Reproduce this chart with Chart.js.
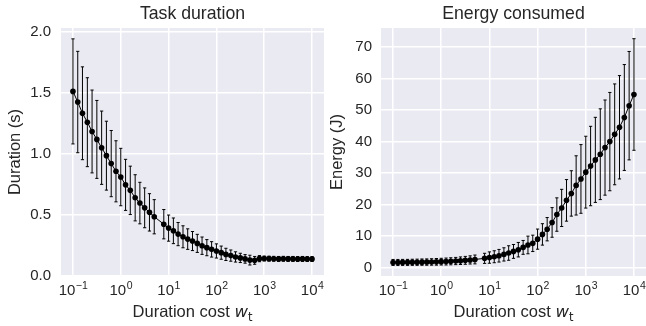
<!DOCTYPE html>
<html>
<head>
<meta charset="utf-8">
<script src="https://cdn.jsdelivr.net/npm/chart.js@4"></script>
<style>
html, body { margin: 0; padding: 0; background: #fff; }
body { width: 646px; height: 326px; overflow: hidden; position: relative; }
#left { position: absolute; left: 0; top: 0; }
#right { position: absolute; left: 322px; top: 0; }
</style>
</head>
<body>
<canvas id="left" width="328" height="326"></canvas>
<canvas id="right" width="328" height="326"></canvas>
<script>
// duration cost w_t (one value is missing from the sweep, near 6.3)
const costs = [0.1, 0.126, 0.158, 0.2, 0.251, 0.316, 0.398, 0.501, 0.631, 0.794,
    1, 1.26, 1.58, 2, 2.51, 3.16, 3.98, 5.01, 7.94,
    10, 12.6, 15.8, 20, 25.1, 31.6, 39.8, 50.1, 63.1, 79.4,
    100, 126, 158, 200, 251, 316, 398, 501, 631, 794,
    1000, 1260, 1580, 2000, 2510, 3160, 3980, 5010, 6310, 7940, 10000];

const durationMean = [1.511, 1.424, 1.332, 1.259, 1.183, 1.118, 1.050, 0.985, 0.920, 0.857,
    0.810, 0.746, 0.701, 0.640, 0.597, 0.558, 0.521, 0.485, 0.424,
    0.392, 0.370, 0.343, 0.321, 0.302, 0.286, 0.267, 0.248, 0.232, 0.218,
    0.205, 0.191, 0.177, 0.167, 0.156, 0.148, 0.140, 0.130, 0.128, 0.142,
    0.143, 0.142, 0.141, 0.140, 0.141, 0.140, 0.140, 0.139, 0.140, 0.139, 0.139];
const durationStd = [0.43, 0.415, 0.38, 0.364, 0.339, 0.319, 0.30, 0.282, 0.271, 0.25,
    0.235, 0.209, 0.198, 0.189, 0.17, 0.163, 0.153, 0.14, 0.12,
    0.107, 0.105, 0.095, 0.09, 0.084, 0.078, 0.074, 0.071, 0.066, 0.063,
    0.058, 0.054, 0.05, 0.046, 0.042, 0.038, 0.035, 0.04, 0.032, 0.025,
    0.02, 0.02, 0.02, 0.02, 0.02, 0.02, 0.02, 0.02, 0.02, 0.02, 0.02];

const energyMean = [1.6, 1.6, 1.62, 1.63, 1.65, 1.67, 1.7, 1.72, 1.76, 1.8,
    1.85, 1.9, 1.97, 2.05, 2.15, 2.27, 2.4, 2.55, 2.9,
    3.15, 3.41, 3.73, 4.15, 4.59, 5.1, 5.65, 6.38, 7.15, 7.66,
    9.0, 10.5, 12.15, 14.3, 16.8, 18.9, 21.3, 23.5, 26.05, 28.1,
    30.25, 32.2, 34.15, 35.95, 38.05, 39.95, 42.25, 44.5, 47.6, 51.35, 54.9];
const energyStd = [0.95, 0.95, 0.95, 0.95, 0.97, 0.98, 1.0, 1.0, 1.02, 1.05,
    1.07, 1.1, 1.12, 1.15, 1.2, 1.25, 1.3, 1.4, 1.6,
    1.8, 1.9, 2.0, 2.1, 2.3, 2.2, 2.3, 2.2, 2.8, 2.6,
    3.2, 3.4, 3.7, 4.7, 5.3, 5.9, 6.6, 7.2, 9.4, 10.9,
    11.4, 12.6, 13.5, 14.4, 15.1, 15.6, 16.0, 16.4, 16.8, 17.2, 17.7];

const costTicks = [0.1, 1, 10, 100, 1000, 10000];
const costTickExponents = ["\u22121", "0", "1", "2", "3", "4"];
const durationTicks = [0, 0.5, 1.0, 1.5, 2.0];
const energyTicks = [0, 10, 20, 30, 40, 50, 60, 70];

const TEXT = "#262626";
const FONT = "'Liberation Sans', Arial, sans-serif";

const decor = {
    id: "decor",
    beforeDraw(chart) {
        const { ctx, chartArea: a } = chart;
        ctx.save();
        ctx.fillStyle = "#eaeaf2";
        ctx.fillRect(a.left, a.top, a.right - a.left, a.bottom - a.top);
        ctx.restore();
    },
    afterDraw(chart, args, opts) {
        const { ctx, chartArea: a } = chart;
        const cx = (a.left + a.right) / 2;
        ctx.save();
        ctx.fillStyle = TEXT;
        ctx.textBaseline = "alphabetic";
        ctx.textAlign = "center";
        ctx.font = "17.7px " + FONT;
        ctx.fillText(opts.title, cx, 18.5);

        // x tick labels 10^n
        ctx.textAlign = "left";
        const xs = chart.scales.x;
        costTicks.forEach((v, i) => {
            const px = xs.getPixelForValue(v);
            ctx.font = "15px " + FONT;
            const wb = ctx.measureText("10").width;
            ctx.font = "10.5px " + FONT;
            const we = ctx.measureText(costTickExponents[i]).width;
            const x0 = px - (wb + we) / 2;
            ctx.font = "15px " + FONT;
            ctx.fillText("10", x0, 295);
            ctx.font = "10.5px " + FONT;
            ctx.fillText(costTickExponents[i], x0 + wb + 0.5, 289);
        });

        // x label: "Duration cost w_t"
        const base = "Duration cost ";
        ctx.font = "16.5px " + FONT;
        const w1 = ctx.measureText(base).width;
        ctx.font = "italic 16.5px 'DejaVu Sans'";
        const w2 = ctx.measureText("w").width;
        ctx.font = "11.5px 'DejaVu Sans'";
        const w3 = ctx.measureText("t").width;
        let x = cx - (w1 + w2 + w3) / 2;
        const y = 317;
        ctx.font = "16.5px " + FONT;
        ctx.fillText(base, x, y);
        x += w1;
        ctx.font = "italic 16.5px 'DejaVu Sans'";
        ctx.fillText("w", x, y);
        x += w2;
        ctx.font = "11.5px 'DejaVu Sans'";
        ctx.fillText("t", x, y + 3.5);
        ctx.restore();
    }
};

const errorBars = {
    id: "errorBars",
    beforeDatasetsDraw(chart, args, opts) {
        const { ctx, scales: { x, y } } = chart;
        ctx.save();
        ctx.strokeStyle = "#000";
        ctx.lineWidth = 1;
        ctx.beginPath();
        costs.forEach((c, i) => {
            const px = x.getPixelForValue(c);
            const top = y.getPixelForValue(opts.mean[i] + opts.std[i]);
            const bot = y.getPixelForValue(opts.mean[i] - opts.std[i]);
            ctx.moveTo(px, top);
            ctx.lineTo(px, bot);
            ctx.moveTo(px - 1.6, top);
            ctx.lineTo(px + 1.6, top);
            ctx.moveTo(px - 1.6, bot);
            ctx.lineTo(px + 1.6, bot);
        });
        ctx.stroke();
        ctx.restore();
    }
};

function makeChart(id, cfg) {
    const ctx = document.getElementById(id).getContext("2d");
    return new Chart(ctx, {
        type: "line",
        data: {
            datasets: [{
                data: costs.map((c, i) => ({ x: c, y: cfg.mean[i] })),
                borderColor: "#000",
                borderWidth: 1,
                pointRadius: 2.8,
                pointBackgroundColor: "#000",
                pointBorderWidth: 0,
                tension: 0
            }]
        },
        options: {
            responsive: false,
            animation: false,
            devicePixelRatio: 1,
            layout: { padding: { top: 28, right: cfg.padRight, left: 0, bottom: 0 } },
            plugins: {
                legend: { display: false },
                tooltip: { enabled: false },
                decor: { title: cfg.title },
                errorBars: { mean: cfg.mean, std: cfg.std }
            },
            scales: {
                x: {
                    type: "logarithmic",
                    min: Math.pow(10, -1.25),
                    max: Math.pow(10, 4.25),
                    afterBuildTicks: s => { s.ticks = costTicks.map(v => ({ value: v, major: true })); },
                    afterFit: s => { s.height = 50; },
                    ticks: { display: false, autoSkip: false, maxRotation: 0 },
                    grid: { color: "#fff", lineWidth: 1.5, drawTicks: false },
                    border: { display: false }
                },
                y: {
                    min: cfg.yMin,
                    max: cfg.yMax,
                    afterBuildTicks: s => { s.ticks = cfg.ticks.map(v => ({ value: v })); },
                    afterFit: s => { s.width = cfg.axisWidth; },
                    ticks: {
                        padding: cfg.tickPad,
                        color: TEXT,
                        font: { family: FONT, size: 15 },
                        callback: cfg.fmt
                    },
                    grid: { color: "#fff", lineWidth: 1.5, drawTicks: false },
                    border: { display: false },
                    title: {
                        display: true,
                        text: cfg.yLabel,
                        color: TEXT,
                        font: { family: FONT, size: 16.5 },
                        padding: { top: cfg.titlePad, bottom: 0 }
                    }
                }
            }
        },
        plugins: [decor, errorBars]
    });
}

makeChart("left", {
    title: "Task duration",
    mean: durationMean,
    std: durationStd,
    yMin: 0,
    yMax: 2.03,
    ticks: durationTicks,
    fmt: v => v.toFixed(1),
    yLabel: "Duration (s)",
    axisWidth: 61,
    padRight: 1,
    tickPad: 10,
    titlePad: 6
});

makeChart("right", {
    title: "Energy consumed",
    mean: energyMean,
    std: energyStd,
    yMin: -2.7,
    yMax: 76,
    ticks: energyTicks,
    fmt: v => String(v),
    yLabel: "Energy (J)",
    axisWidth: 59,
    padRight: 3,
    tickPad: 9,
    titlePad: 6
});
</script>
</body>
</html>
